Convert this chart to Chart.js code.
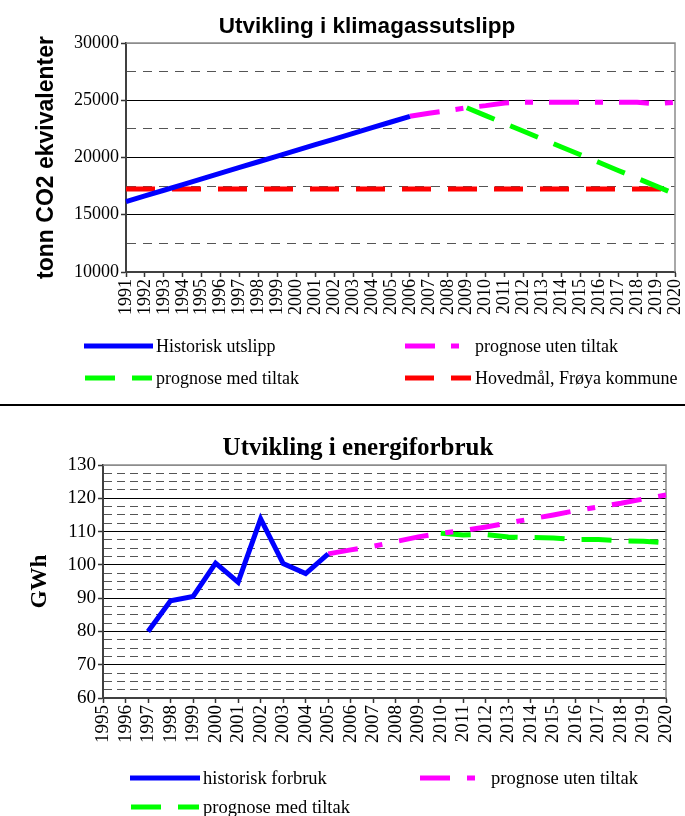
<!DOCTYPE html>
<html>
<head>
<meta charset="utf-8">
<script src="https://cdn.jsdelivr.net/npm/chart.js@4.4.1/dist/chart.umd.min.js"></script>
<style>
  html, body { margin: 0; padding: 0; background: #fff; }
  #wrap { position: relative; width: 685px; height: 816px; overflow: hidden; }
  #c1 { position: absolute; left: 0; top: 0; }
  #rule { position: absolute; left: 0; top: 404px; width: 685px; height: 2px; background: #000; }
  #c2 { position: absolute; left: 0; top: 408px; }
</style>
</head>
<body>
<div id="wrap">
  <canvas id="c1" width="685" height="400"></canvas>
  <div id="rule"></div>
  <canvas id="c2" width="685" height="408"></canvas>
</div>
<script>
// --- klimagassutslipp (tonn CO2 ekvivalenter) ---
const aarUtslipp = ["1991", "1992", "1993", "1994", "1995", "1996", "1997", "1998", "1999", "2000",
  "2001", "2002", "2003", "2004", "2005", "2006", "2007", "2008", "2009", "2010",
  "2011", "2012", "2013", "2014", "2015", "2016", "2017", "2018", "2019", "2020"];
const historiskUtslipp = [16150, 16650, 17140, 17640, 18140, 18630, 19130, 19630, 20120, 20620,
  21120, 21610, 22110, 22610, 23100, 23600]; // 1991-2006
const utslippUtenTiltak = [23600, 23870, 24100, 24340, 24530, 24760, 24830, 24830, 24830, 24830,
  24830, 24830, 24830, 24680, 24830]; // 2006-2020
const utslippMedTiltak = [24340, 23660, 22970, 22290, 21610, 20920, 20240, 19560, 18870, 18190,
  17500, 16820]; // 2009-2020
const hovedmaal = [17250, 17250, 17250, 17250, 17250, 17250, 17250, 17250, 17250, 17250,
  17250, 17250, 17250, 17250, 17250, 17250, 17250, 17250, 17250, 17250,
  17250, 17250, 17250, 17250, 17250, 17250, 17250, 17250, 17250, 17250]; // 1991-2020

// --- energiforbruk (GWh) ---
const aarEnergi = ["1995", "1996", "1997", "1998", "1999", "2000", "2001", "2002", "2003", "2004",
  "2005", "2006", "2007", "2008", "2009", "2010", "2011", "2012", "2013", "2014",
  "2015", "2016", "2017", "2018", "2019", "2020"];
const historiskForbruk = [80.0, 89.2, 90.5, 100.5, 94.8, 113.8, 100.4, 97.4, 103.3]; // 1997-2005
const forbrukUtenTiltak = [103.3, 104.5, 105.6, 107.0, 108.4, 109.5, 110.3, 111.4, 112.6, 113.8,
  115.0, 116.3, 117.4, 118.5, 119.8, 121.0]; // 2005-2020
const forbrukMedTiltak = [109.5, 109.0, 109.1, 108.4, 108.2, 108.1, 107.6, 107.6, 107.2, 107.1, 106.6]; // 2010-2020

function fraAar(first, values) {
  return values.map((v, i) => ({ x: String(first + i), y: v }));
}

const SERIF = "'Liberation Serif', 'Times New Roman', serif";
const SANS = "'Liberation Sans', Arial, sans-serif";

// tittel, legende og ramme rundt plottet
const tekstOgRamme = {
  id: "tekstOgRamme",
  beforeDatasetsDraw(chart) {
    const { ctx, chartArea: a } = chart;
    ctx.save();
    ctx.strokeStyle = "#8c8c8c";
    ctx.lineWidth = 1.5;
    ctx.beginPath();
    ctx.moveTo(a.left, a.top);
    ctx.lineTo(a.right, a.top);
    ctx.lineTo(a.right, a.bottom);
    ctx.stroke();
    ctx.restore();
  },
  afterDraw(chart, args, opts) {
    const ctx = chart.ctx;
    ctx.save();
    ctx.fillStyle = "#000";
    ctx.font = opts.titleFont;
    ctx.textAlign = "center";
    ctx.textBaseline = "alphabetic";
    ctx.fillText(opts.title, opts.titleX, opts.titleY);

    opts.legend.forEach((item) => {
      const ds = chart.data.datasets[item.ds];
      ctx.beginPath();
      ctx.setLineDash(ds.borderDash || []);
      ctx.lineWidth = 5;
      ctx.lineCap = "butt";
      ctx.strokeStyle = ds.borderColor;
      ctx.moveTo(item.x, item.y);
      ctx.lineTo(item.x + item.len, item.y);
      ctx.stroke();
      ctx.setLineDash([]);
      ctx.font = opts.legendFont;
      ctx.textAlign = "left";
      ctx.fillText(ds.label, item.textX, item.y + 6);
    });
    ctx.restore();
  },
};

function yAkse(min, max, step, major, dash, title, titleFont, titlePad, width, tickSize) {
  return {
    min: min,
    max: max,
    ticks: {
      stepSize: step,
      autoSkip: false,
      color: "#000",
      font: { family: SERIF, size: tickSize },
      padding: 2,
      callback: (v) => (v % major === 0 ? v : ""),
    },
    grid: {
      color: (c) => (c.tick.value === max ? "#8c8c8c" : c.tick.value % major === 0 ? "#000" : "#555"),
      lineWidth: 1,
      tickLength: 5,
      tickColor: (c) => (c.tick.value % major === 0 ? "#333" : "rgba(0,0,0,0)"),
      tickWidth: 1.5,
    },
    border: {
      color: "#404040",
      width: 2,
      dash: (c) => (c.tick && c.tick.value % major !== 0 ? dash : []),
    },
    title: {
      display: true,
      text: title,
      color: "#000",
      font: titleFont,
      padding: { top: titlePad, bottom: 0 },
    },
    afterFit: (s) => { s.width = width; },
  };
}

function xAkse(labels, height, tickSize) {
  return {
    type: "category",
    labels: labels,
    offset: false,
    ticks: {
      autoSkip: false,
      maxRotation: 90,
      minRotation: 90,
      color: "#000",
      font: { family: SERIF, size: tickSize },
      padding: 2,
    },
    grid: {
      drawOnChartArea: false,
      drawTicks: true,
      tickLength: 5,
      tickColor: "#333",
      tickWidth: 1.5,
    },
    border: { color: "#404040", width: 2 },
    afterFit: (s) => {
      s.height = height;
      s.paddingLeft = 0;
      s.paddingRight = 0;
    },
  };
}

new Chart(document.getElementById("c1"), {
  type: "line",
  data: {
    datasets: [
      {
        label: "Historisk utslipp",
        data: fraAar(1991, historiskUtslipp),
        borderColor: "#0000ff",
        borderWidth: 5,
      },
      {
        label: "prognose uten tiltak",
        data: fraAar(2006, utslippUtenTiltak),
        borderColor: "#ff00ff",
        borderWidth: 5,
        borderDash: [30, 16, 8, 16],
      },
      {
        label: "prognose med tiltak",
        data: fraAar(2009, utslippMedTiltak),
        borderColor: "#00ff00",
        borderWidth: 5,
        borderDash: [30, 17],
      },
      {
        label: "Hovedmål, Frøya kommune",
        data: fraAar(1991, hovedmaal),
        borderColor: "#ff0000",
        borderWidth: 5,
        borderDash: [29, 17],
      },
    ],
  },
  options: {
    responsive: false,
    animation: false,
    layout: { padding: { top: 43, right: 10, left: 0, bottom: 0 } },
    elements: { point: { radius: 0 }, line: { tension: 0, borderCapStyle: "butt" } },
    scales: {
      x: xAkse(aarUtslipp, 128, 18),
      y: yAkse(10000, 30000, 2500, 5000, [9, 7], "tonn CO2 ekvivalenter",
        { family: SANS, size: 23, weight: "bold" }, 33, 126, 18),
    },
    plugins: {
      legend: { display: false },
      title: { display: false },
      tooltip: { enabled: false },
      tekstOgRamme: {
        title: "Utvikling i klimagassutslipp",
        titleFont: "bold 22.5px " + SANS,
        titleX: 367,
        titleY: 33,
        legendFont: "18px " + SERIF,
        legend: [
          { ds: 0, x: 84, y: 346, len: 69, textX: 156 },
          { ds: 1, x: 405, y: 346, len: 55, textX: 475 },
          { ds: 2, x: 85, y: 378, len: 67, textX: 156 },
          { ds: 3, x: 405, y: 378, len: 66, textX: 475 },
        ],
      },
    },
  },
  plugins: [tekstOgRamme],
});

new Chart(document.getElementById("c2"), {
  type: "line",
  data: {
    datasets: [
      {
        label: "historisk forbruk",
        data: fraAar(1997, historiskForbruk),
        borderColor: "#0000ff",
        borderWidth: 5,
      },
      {
        label: "prognose uten tiltak",
        data: fraAar(2005, forbrukUtenTiltak),
        borderColor: "#ff00ff",
        borderWidth: 5,
        borderDash: [30, 17, 8, 17],
      },
      {
        label: "prognose med tiltak",
        data: fraAar(2010, forbrukMedTiltak),
        borderColor: "#00ff00",
        borderWidth: 5,
        borderDash: [30, 17],
      },
    ],
  },
  options: {
    responsive: false,
    animation: false,
    layout: { padding: { top: 57, right: 19, left: 0, bottom: 0 } },
    elements: { point: { radius: 0 }, line: { tension: 0, borderCapStyle: "butt" } },
    scales: {
      x: xAkse(aarEnergi, 118, 19),
      y: yAkse(60, 130, 2.5, 10, [8, 5], "GWh",
        { family: SERIF, size: 23, weight: "bold" }, 26, 103, 19),
    },
    plugins: {
      legend: { display: false },
      title: { display: false },
      tooltip: { enabled: false },
      tekstOgRamme: {
        title: "Utvikling i energiforbruk",
        titleFont: "bold 25px " + SERIF,
        titleX: 358,
        titleY: 47,
        legendFont: "18.5px " + SERIF,
        legend: [
          { ds: 0, x: 130, y: 370, len: 70, textX: 203 },
          { ds: 1, x: 420, y: 370, len: 56, textX: 491 },
          { ds: 2, x: 131, y: 399, len: 68, textX: 203 },
        ],
      },
    },
  },
  plugins: [tekstOgRamme],
});
</script>
</body>
</html>
